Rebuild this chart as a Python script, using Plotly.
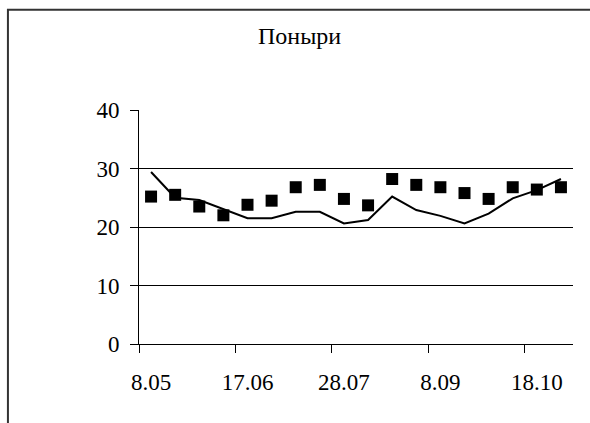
import plotly.graph_objects as go

# Ten-day dates (day.month) for the season
dates = ["8.05", "18.05", "28.05", "7.06", "17.06", "27.06", "7.07", "17.07", "28.07",
         "7.08", "17.08", "28.08", "8.09", "18.09", "28.09", "8.10", "18.10", "28.10"]

# Observed values (squares) and the smoothed course (line)
observed = [25.2, 25.5, 23.5, 22.0, 23.8, 24.5, 26.8, 27.2, 24.8,
            23.7, 28.2, 27.2, 26.8, 25.8, 24.8, 26.8, 26.4, 26.8]
course = [29.4, 25.0, 24.6, 23.0, 21.5, 21.5, 22.6, 22.6, 20.6,
          21.2, 25.2, 22.9, 21.9, 20.6, 22.3, 24.9, 26.3, 28.2]

title_text = "Поныри"
y_ticks = [0, 10, 20, 30, 40]

FONT = "Liberation Serif"

fig = go.Figure()
fig.add_trace(go.Scatter(
    x=dates, y=course, mode="lines",
    line=dict(color="black", width=2),
    showlegend=False, hoverinfo="skip",
))
fig.add_trace(go.Scatter(
    x=dates, y=observed, mode="markers",
    marker=dict(symbol="square", size=12, color="black", line=dict(width=0)),
    showlegend=False,
))

fig.update_layout(
    width=590, height=423,
    margin=dict(l=139, r=17, t=110, b=79, autoexpand=False),
    paper_bgcolor="white", plot_bgcolor="white",
    font=dict(family=FONT, color="black", size=23),
    annotations=[dict(
        text=title_text, xref="paper", yref="paper", x=0.37, y=1.318,
        xanchor="center", yanchor="middle", showarrow=False,
        font=dict(family=FONT, size=24, color="black"),
    )],
    shapes=[dict(
        type="rect", xref="paper", yref="paper",
        x0=-0.302, x1=1.2, y0=-0.6, y1=1.428,
        line=dict(color="#333333", width=2), layer="above",
    )],
)

fig.update_xaxes(
    type="category", categoryorder="array", categoryarray=dates,
    range=[-0.5, len(dates) - 0.5],
    tickmode="linear", tick0=0, dtick=4, tickson="boundaries",
    tickangle=0, automargin=False,
    ticks="outside", ticklen=8, tickcolor="black", tickwidth=1,
    showline=True, linecolor="black", linewidth=1,
    showgrid=False, zeroline=False,
    ticklabelstandoff=17,
    tickfont=dict(family=FONT, size=23, color="black"),
)
fig.update_yaxes(
    range=[0, 40], tickvals=y_ticks, automargin=False,
    ticks="outside", ticklen=8, tickcolor="black", tickwidth=1,
    showline=True, linecolor="black", linewidth=1,
    showgrid=True, gridcolor="black", gridwidth=1,
    zeroline=False,
    ticklabelstandoff=6,
    tickfont=dict(family=FONT, size=23, color="black"),
)

fig.write_html("out.html")
